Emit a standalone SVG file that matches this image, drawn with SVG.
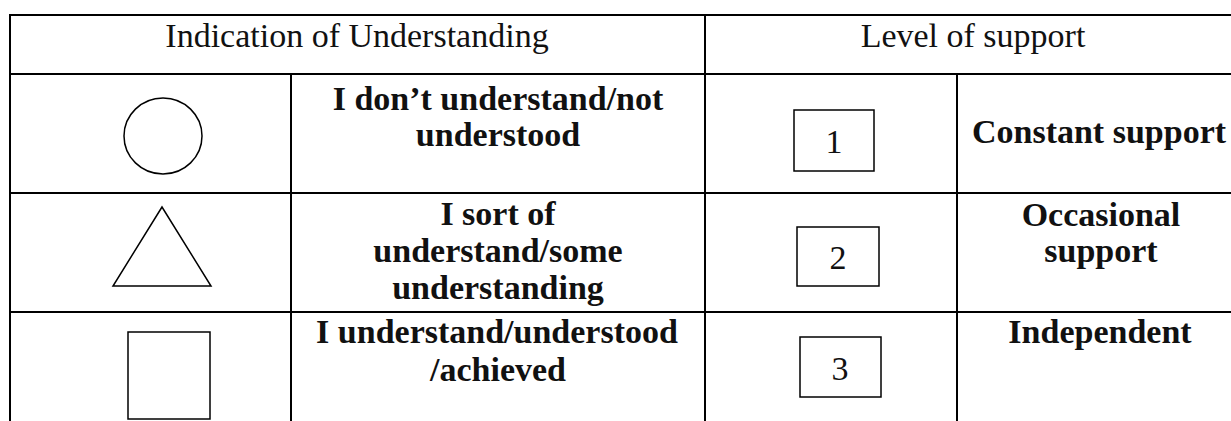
<svg xmlns="http://www.w3.org/2000/svg" width="1231" height="421" viewBox="0 0 1231 421">
  <style>
    .grid { stroke: #000; stroke-width: 2; fill: none; }
    .shape { stroke: #000; stroke-width: 1.5; fill: none; }
    .hd { font-family: "Liberation Serif", "Times New Roman", serif; font-size: 34px; fill: #111; text-anchor: middle; }
    .bd { font-family: "Liberation Serif", "Times New Roman", serif; font-size: 34px; font-weight: bold; fill: #111; text-anchor: middle; }
    .num { font-family: "Liberation Serif", "Times New Roman", serif; font-size: 34px; fill: #111; text-anchor: middle; }
  </style>
  <rect width="1231" height="421" fill="#fff"/>
  <g id="table-lines" class="grid">
    <line x1="10" y1="15" x2="1231" y2="15"/>
    <line x1="10" y1="74" x2="1231" y2="74"/>
    <line x1="10" y1="193" x2="1231" y2="193"/>
    <line x1="10" y1="312" x2="1231" y2="312"/>
    <line x1="10" y1="14" x2="10" y2="421"/>
    <line x1="291" y1="74" x2="291" y2="421"/>
    <line x1="705" y1="15" x2="705" y2="421"/>
    <line x1="957" y1="74" x2="957" y2="421"/>
  </g>
  <g id="header-understanding">
    <text class="hd" x="357" y="47">Indication of Understanding</text>
  </g>
  <g id="header-support">
    <text class="hd" x="973" y="47">Level of support</text>
  </g>
  <g id="circle-symbol">
    <ellipse class="shape" cx="163" cy="136" rx="39" ry="38"/>
  </g>
  <g id="text-not-understood">
    <text class="bd" x="498" y="110">I don’t understand/not</text>
    <text class="bd" x="498" y="146">understood</text>
  </g>
  <g id="box-1">
    <rect class="shape" x="794" y="110" width="80" height="61"/>
    <text class="num" x="834" y="153">1</text>
  </g>
  <g id="text-constant">
    <text class="bd" x="1099" y="143">Constant support</text>
  </g>
  <g id="triangle-symbol">
    <polygon class="shape" points="162,207 113,286 211,286"/>
  </g>
  <g id="text-sort-of">
    <text class="bd" x="498" y="225">I sort of</text>
    <text class="bd" x="498" y="262">understand/some</text>
    <text class="bd" x="498" y="299">understanding</text>
  </g>
  <g id="box-2">
    <rect class="shape" x="797" y="227" width="82" height="59"/>
    <text class="num" x="838" y="269">2</text>
  </g>
  <g id="text-occasional">
    <text class="bd" x="1101" y="226">Occasional</text>
    <text class="bd" x="1101" y="262">support</text>
  </g>
  <g id="square-symbol">
    <rect class="shape" x="128" y="332" width="82" height="87"/>
  </g>
  <g id="text-understood">
    <text class="bd" x="497" y="343">I understand/understood</text>
    <text class="bd" x="498" y="381">/achieved</text>
  </g>
  <g id="box-3">
    <rect class="shape" x="800" y="337" width="81" height="60"/>
    <text class="num" x="840" y="380">3</text>
  </g>
  <g id="text-independent">
    <text class="bd" x="1100" y="343">Independent</text>
  </g>
</svg>
